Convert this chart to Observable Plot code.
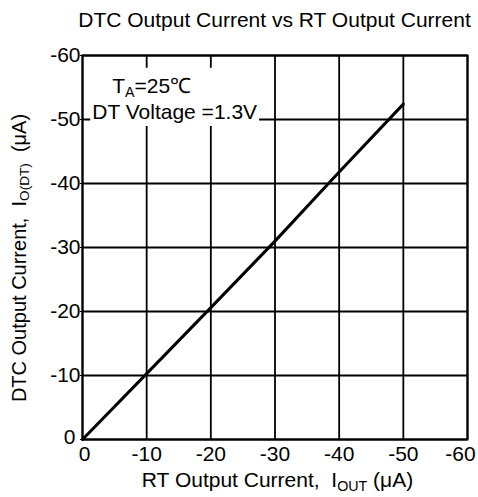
<!DOCTYPE html>
<html><head><meta charset="utf-8">
<script src="https://cdn.jsdelivr.net/npm/d3@7"></script>
<script src="https://cdn.jsdelivr.net/npm/@observablehq/plot@0.6"></script>
<style>
body{margin:0;background:#fff}
#chart svg{font-family:"Liberation Sans",Arial,Helvetica,sans-serif;display:block}
</style>
</head><body><div id="chart"></div>
<script>
// data
const rtCurrent  = [0, -10, -20, -30, -40, -50];
const dtcCurrent = [0, -10.3, -20.6, -31, -41.8, -52.4];
const xTicks = [0, -10, -20, -30, -40, -50, -60];
const yTicks = [0, -10, -20, -30, -40, -50, -60];
const titleText = "DTC Output Current vs RT Output Current";
const xLabelParts = [["RT Output Current,  I", ""], ["OUT", "sub"], [" (μA)", ""]];
const yLabelParts = [["DTC Output Current,  I", ""], ["O(DT)", "sub"], ["  (μA)", ""]];
const noteX = [-4.7, -1.6];
const noteY = [-54.1, -50];
const noteParts = [
  [["T", ""], ["A", "sub"], ["=25℃", ""]],
  [["DT Voltage =1.3V", ""]]
];

const W = 478, H = 497, mL = 82, mR = 11, mT = 55, mB = 58;
const FS = 21;
const data = rtCurrent.map((x, i) => ({x, y: dtcCurrent[i]}));
const fmt = d => String(d);

const plot = Plot.plot({
  width: W, height: H,
  marginLeft: mL, marginRight: mR, marginTop: mT, marginBottom: mB,
  style: {fontSize: FS + "px", color: "#000", background: "#fff", overflow: "visible"},
  x: {domain: [0, -60]},
  y: {domain: [0, -60]},
  marks: [
    Plot.gridX(xTicks, {stroke: "#000", strokeOpacity: 1, strokeWidth: 1.8}),
    Plot.gridY(yTicks, {stroke: "#000", strokeOpacity: 1, strokeWidth: 1.8}),
    Plot.frame({stroke: "#000", strokeWidth: 2}),
    Plot.axisX(xTicks, {tickSize: 0, tickPadding: 7, tickFormat: fmt, label: null, fontSize: FS}),
    Plot.axisY(yTicks, {tickSize: 2, tickPadding: 0, tickFormat: fmt, label: null, fontSize: FS}),
    Plot.line(data, {x: "x", y: "y", stroke: "#000", strokeWidth: 3})
  ]
});
document.getElementById("chart").appendChild(plot);

const svg = d3.select(plot);
const sx = plot.scale("x"), sy = plot.scale("y");

// tick label nudges as in the reference
svg.selectAll('g[aria-label="x-axis tick label"] text').each(function () {
  if (this.textContent === fmt(xTicks[xTicks.length - 1])) d3.select(this).attr("dx", -7);
  if (this.textContent === fmt(xTicks[0])) d3.select(this).attr("dx", 2);
});
svg.selectAll('g[aria-label="y-axis tick label"] text').each(function () {
  if (this.textContent === fmt(yTicks[0])) {
    const s = d3.select(this);
    s.attr("transform", (s.attr("transform") || "") + " translate(-5,-2)");
  }
});

function rich(sel, parts, size) {
  let shift = 0;
  parts.forEach(([t, kind]) => {
    const ts = sel.append("tspan").text(t);
    if (kind === "sub") {
      shift = size * 0.18;
      ts.attr("font-size", size * 0.68).attr("dy", shift);
    } else if (shift) {
      ts.attr("dy", -shift);
      shift = 0;
    }
  });
}

// annotation with white box
const noteG = svg.append("g");
const noteTexts = noteParts.map((parts, i) => {
  const t = noteG.append("text")
    .attr("x", sx.apply(noteX[i])).attr("y", sy.apply(noteY[i]))
    .attr("text-anchor", "start")
    .attr("font-size", FS).attr("fill", "#000");
  rich(t, parts, FS);
  return t;
});
let x0 = Infinity, y0 = Infinity, x1 = -Infinity, y1 = -Infinity;
noteTexts.forEach(t => {
  const b = t.node().getBBox();
  x0 = Math.min(x0, b.x); y0 = Math.min(y0, b.y);
  x1 = Math.max(x1, b.x + b.width); y1 = Math.max(y1, b.y + b.height);
});
noteG.insert("rect", ":first-child")
  .attr("x", x0 - 2).attr("y", y0 - 6)
  .attr("width", x1 - x0 + 4).attr("height", y1 - y0 + 9)
  .attr("fill", "#fff");

// title
const cx = (mL + W - mR) / 2;
svg.append("text").attr("x", cx).attr("y", 27).attr("text-anchor", "middle")
  .attr("font-size", FS).attr("fill", "#000").text(titleText);

// x label
const xl = svg.append("text").attr("x", cx + 3).attr("y", 487)
  .attr("text-anchor", "middle").attr("font-size", FS).attr("fill", "#000");
rich(xl, xLabelParts, FS);

// y label
const yl = svg.append("text")
  .attr("transform", `translate(25.5,${(mT + H - mB) / 2 + 11}) rotate(-90)`)
  .attr("text-anchor", "middle").attr("font-size", 20).attr("fill", "#000");
rich(yl, yLabelParts, 20);
</script>
</body></html>
